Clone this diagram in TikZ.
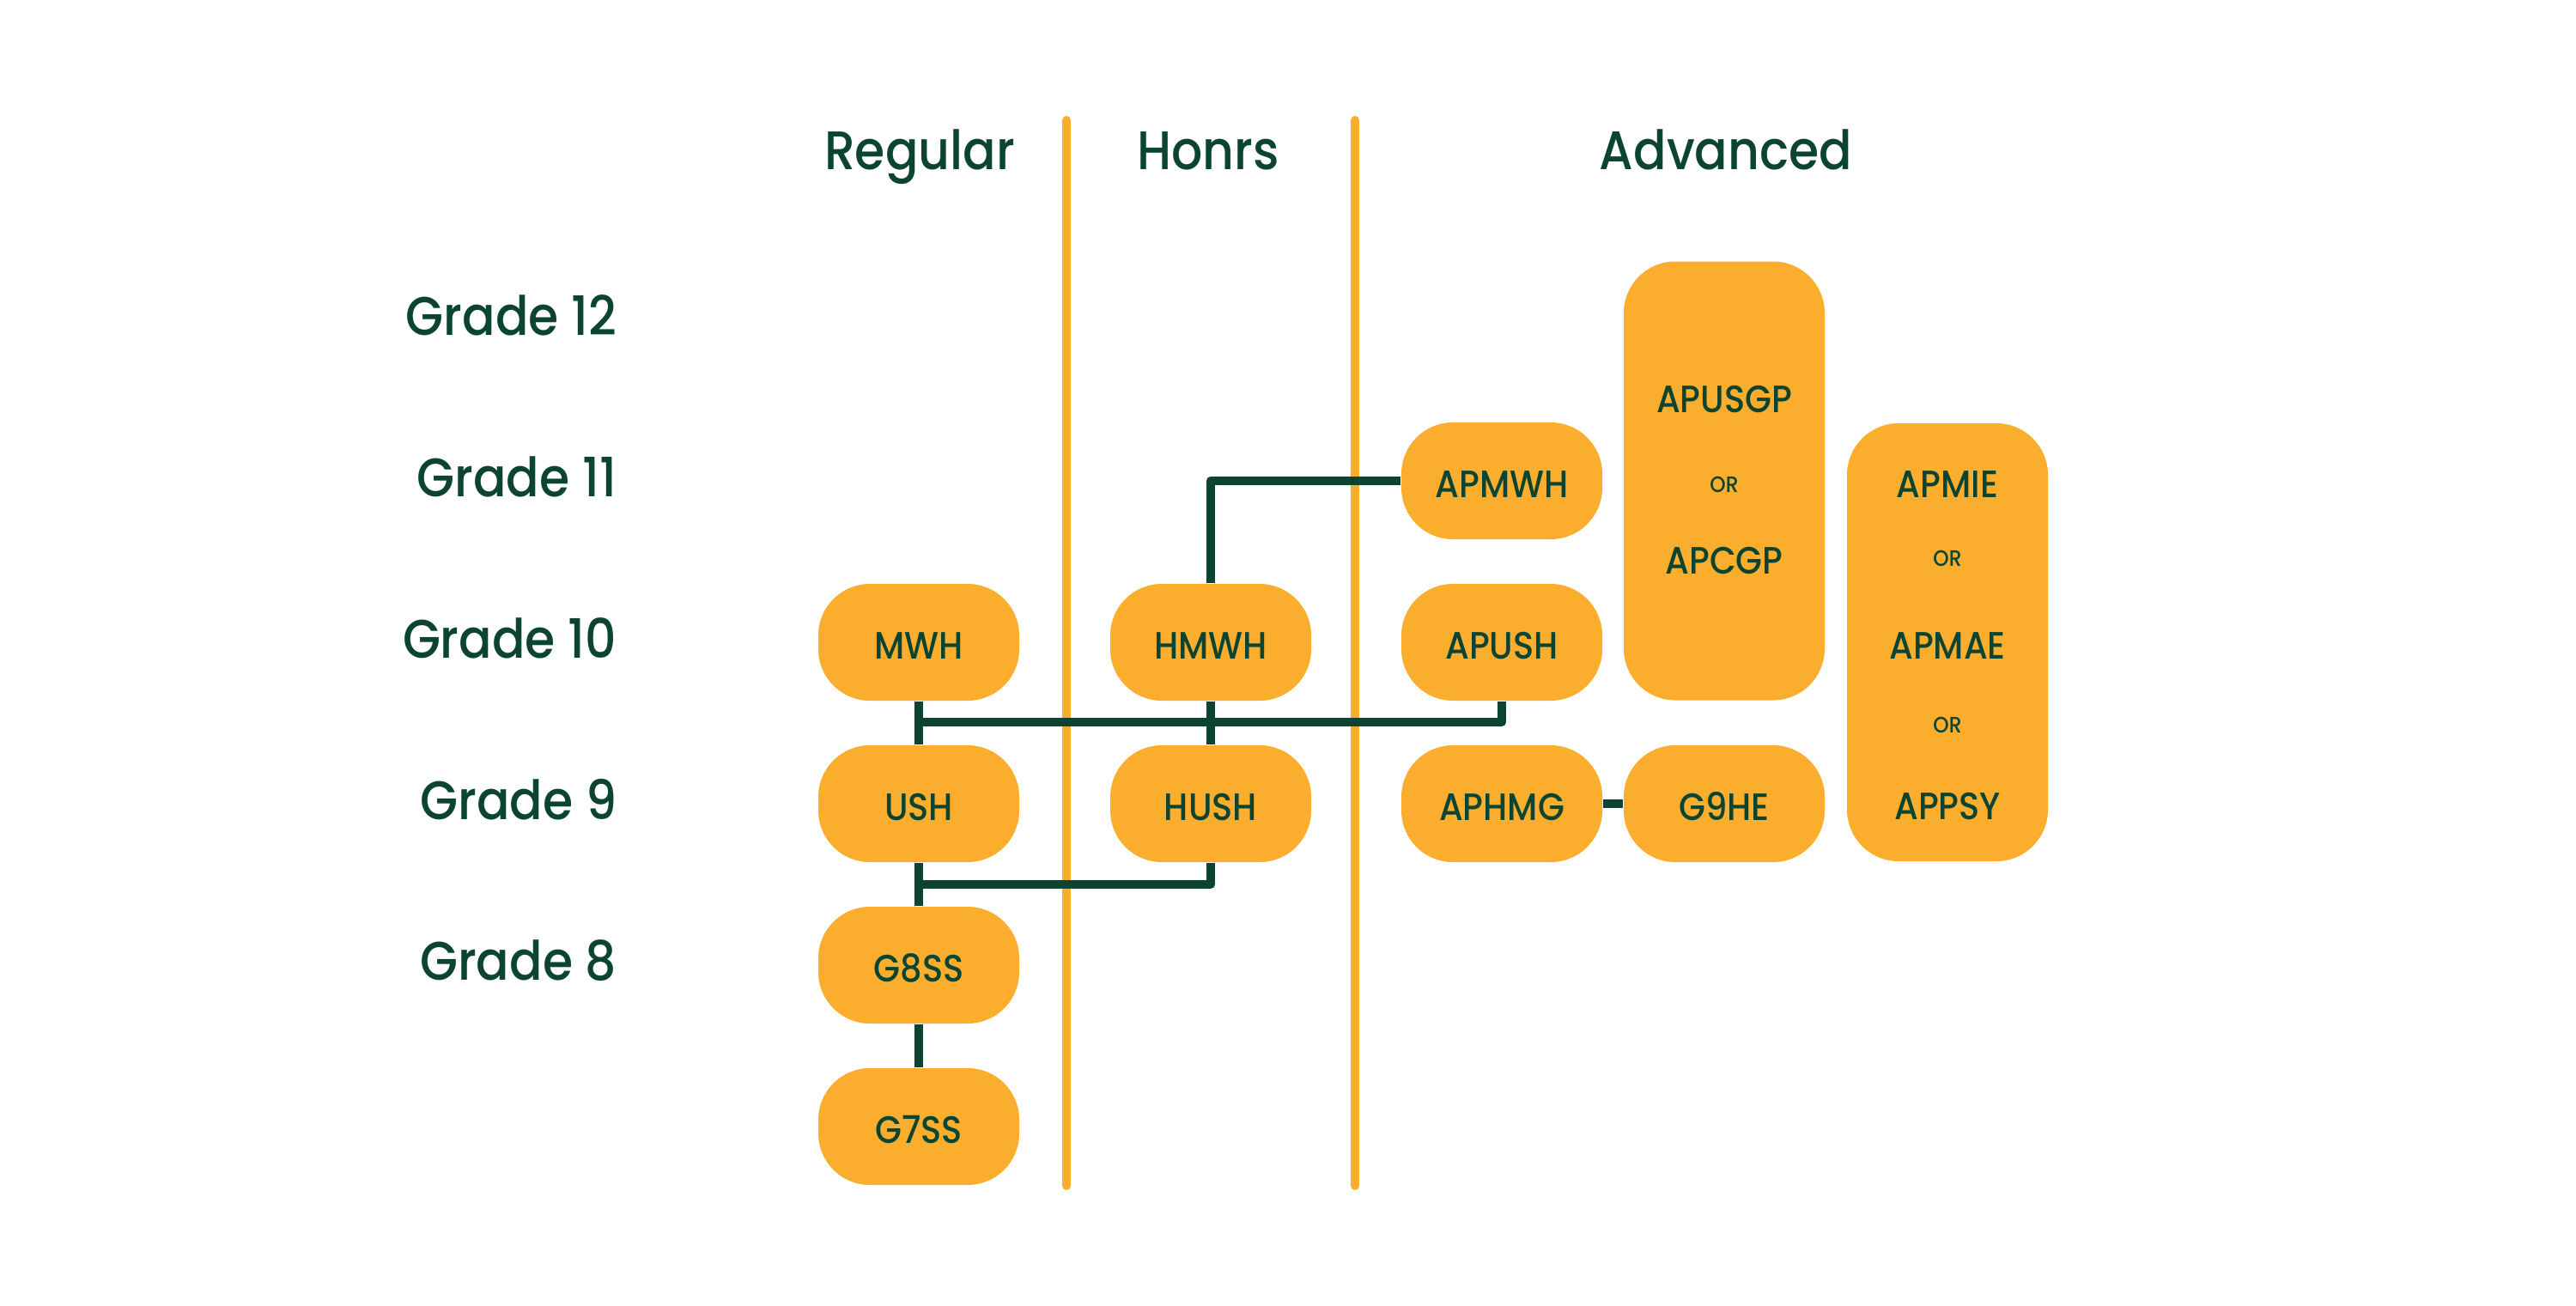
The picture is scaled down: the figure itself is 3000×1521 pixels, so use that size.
\documentclass[tikz,border=0pt]{standalone}
\usepackage{fontspec}
\IfFontExistsTF{Poppins Medium}
  {\setmainfont{Poppins Medium}[FakeStretch=0.9]}
  {\setmainfont{Poppins}[FakeStretch=0.9,FakeBold=1]}
\definecolor{orng}{RGB}{251,173,45}
\definecolor{dgreen}{RGB}{12,68,50}
\begin{document}
\begin{tikzpicture}[x=0.25pt,y=-0.25pt,
  course/.style={fill=orng, rounded corners=15pt, minimum width=58.5pt, minimum height=34pt, inner sep=0pt},
  ctext/.style={text=dgreen, font=\fontsize{11.1}{13}\selectfont, inner sep=0pt, text height=9.7pt, text depth=0pt},
  ortext/.style={text=dgreen, font=\fontsize{6.5}{8}\selectfont, inner sep=0pt, text height=5.6pt, text depth=0pt},
  head/.style={text=dgreen, font=\fontsize{15.8}{18}\selectfont, inner sep=0pt},
  link/.style={draw=dgreen, line width=2.5pt, line join=round},
  divider/.style={draw=orng, line width=2.5pt, line cap=round}]
\useasboundingbox (0,0) rectangle (3000,1521);

% column headers
\node[head, anchor=base] (hreg) at (1071,197) {Regular};
\node[head, anchor=base] (hhon) at (1407,197) {Honrs};
\node[head, anchor=base] (hadv) at (2010,197) {Advanced};

% grade labels
\node[head, anchor=base east] (g12) at (719,390) {Grade 12};
\node[head, anchor=base east] (g11) at (719,578) {Grade 11};
\node[head, anchor=base east] (g10) at (719,766) {Grade 10};
\node[head, anchor=base east] (g9) at (719,954) {Grade 9};
\node[head, anchor=base east] (g8) at (719,1141) {Grade 8};

% dividers
\coordinate (d1t) at (1242,140);
\coordinate (d1b) at (1242,1381);
\coordinate (d2t) at (1578,140);
\coordinate (d2b) at (1578,1381);
\draw[divider] (d1t) -- (d1b);
\draw[divider] (d2t) -- (d2b);

% regular column
\node[course, ctext] (MWH) at (1070,748) {MWH};
\node[course, ctext] (USH) at (1070,936) {USH};
\node[course, ctext] (G8SS) at (1070,1124) {G8SS};
\node[course, ctext] (G7SS) at (1070,1312) {G7SS};

% honors column
\node[course, ctext] (HMWH) at (1410,748) {HMWH};
\node[course, ctext] (HUSH) at (1410,936) {HUSH};

% advanced column
\node[course, ctext] (APMWH) at (1749,560) {APMWH};
\node[course, ctext] (APUSH) at (1749,748) {APUSH};
\node[course, ctext] (APHMG) at (1749,936) {APHMG};
\node[course, ctext] (G9HE) at (2008,936) {G9HE};

\node[course, minimum height=127.75pt] (GOV) at (2008,560) {};
\node[ctext] (APUSGP) at (2008,461) {APUSGP};
\node[ortext] (or1) at (2008,562) {OR};
\node[ctext] (APCGP) at (2008,649) {APCGP};

\node[course, minimum height=127.5pt] (ECON) at (2268,748) {};
\node[ctext] (APMIE) at (2268,560) {APMIE};
\node[ortext] (or2) at (2268,648) {OR};
\node[ctext] (APMAE) at (2268,748) {APMAE};
\node[ortext] (or3) at (2268,842) {OR};
\node[ctext] (APPSY) at (2268,935) {APPSY};

% connectors
\coordinate (j1) at (1070,841);
\coordinate (j2) at (1070,1030);
\draw[link] (MWH.south) -- (USH.north);
\draw[link] (HMWH.south) -- (HUSH.north);
\draw[link] (j1) -| (APUSH.south);
\draw[link] (HMWH.north) |- (APMWH.west);
\draw[link] (USH.south) -- (G8SS.north);
\draw[link] (j2) -| (HUSH.south);
\draw[link] (G8SS.south) -- (G7SS.north);
\draw[link] (APHMG.east) -- (G9HE.west);
\end{tikzpicture}
\end{document}
